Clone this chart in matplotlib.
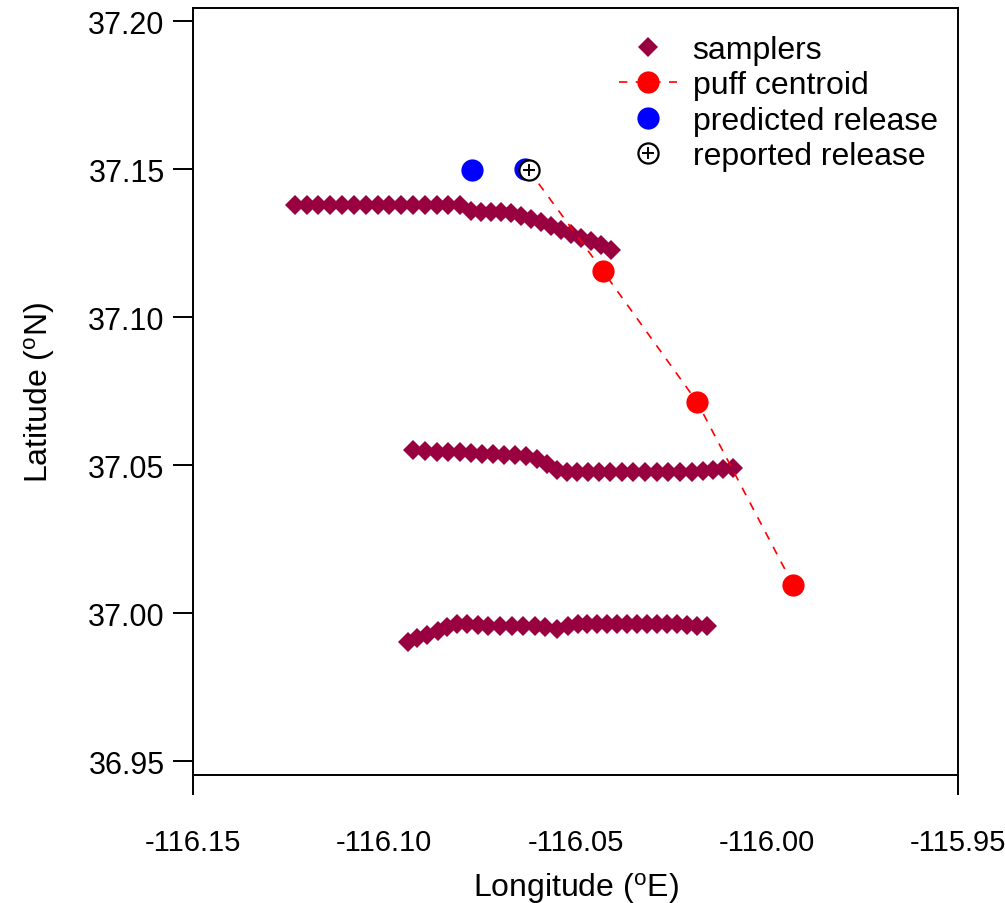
import numpy as np
import matplotlib
matplotlib.use("Agg")
import matplotlib.pyplot as plt
from matplotlib.lines import Line2D
from matplotlib.legend_handler import HandlerTuple

plt.rcParams['font.family'] = ['Liberation Sans', 'DejaVu Sans']
plt.rcParams['mathtext.default'] = 'regular'

# sampler lines (lon, lat)
line1_lon = [-116.1233, -116.1202, -116.1173, -116.1142, -116.1110, -116.1079, -116.1048,
             -116.1016, -116.0988, -116.0956, -116.0925, -116.0893, -116.0862, -116.0833,
             -116.0802, -116.0773, -116.0747, -116.0721, -116.0695, -116.0669, -116.0642,
             -116.0616, -116.0590, -116.0564, -116.0538, -116.0512, -116.0486, -116.0459,
             -116.0433, -116.0407]
line1_lat = [37.1378, 37.1378, 37.1378, 37.1378, 37.1378, 37.1378, 37.1378,
             37.1378, 37.1378, 37.1378, 37.1378, 37.1378, 37.1378, 37.1378,
             37.1378, 37.1358, 37.1355, 37.1355, 37.1355, 37.1351, 37.1341,
             37.1331, 37.1321, 37.1307, 37.1294, 37.1280, 37.1267, 37.1257,
             37.1243, 37.1226]

line2_lon = [-116.0924, -116.0893, -116.0863, -116.0833, -116.0802, -116.0774, -116.0745,
             -116.0716, -116.0687, -116.0658, -116.0629, -116.0601, -116.0575, -116.0549,
             -116.0523, -116.0497, -116.0467, -116.0438, -116.0410, -116.0379, -116.0349,
             -116.0318, -116.0288, -116.0257, -116.0227, -116.0196, -116.0166, -116.0140,
             -116.0114, -116.0087]
line2_lat = [37.0552, 37.0548, 37.0545, 37.0545, 37.0543, 37.0541, 37.0537,
             37.0537, 37.0535, 37.0534, 37.0531, 37.0520, 37.0503, 37.0484,
             37.0477, 37.0477, 37.0475, 37.0475, 37.0475, 37.0475, 37.0475,
             37.0475, 37.0475, 37.0475, 37.0477, 37.0477, 37.0481, 37.0484,
             37.0486, 37.0489]

line3_lon = [-116.0937, -116.0915, -116.0889, -116.0859, -116.0837, -116.0811, -116.0784,
             -116.0754, -116.0728, -116.0697, -116.0667, -116.0636, -116.0606, -116.0580,
             -116.0549, -116.0519, -116.0493, -116.0471, -116.0445, -116.0418, -116.0392,
             -116.0366, -116.0340, -116.0314, -116.0288, -116.0262, -116.0235, -116.0209,
             -116.0183, -116.0157]
line3_lat = [36.9901, 36.9915, 36.9926, 36.9940, 36.9952, 36.9963, 36.9963,
             36.9959, 36.9957, 36.9957, 36.9955, 36.9955, 36.9955, 36.9952,
             36.9946, 36.9955, 36.9963, 36.9963, 36.9963, 36.9963, 36.9963,
             36.9963, 36.9963, 36.9963, 36.9963, 36.9963, 36.9963, 36.9959,
             36.9957, 36.9955]

centroid_lon = [-116.0428, -116.0182, -115.9931]
centroid_lat = [37.1155, 37.0713, 37.0095]

predicted_lon = [-116.0771, -116.0632]
predicted_lat = [37.1497, 37.1500]

reported_lon = [-116.0622]
reported_lat = [37.1496]

xticks = [-116.15, -116.10, -116.05, -116.00, -115.95]
yticks = [36.95, 37.00, 37.05, 37.10, 37.15, 37.20]

sampler_color = '#990040'

fig = plt.figure(figsize=(10.05, 9.04), dpi=100)
ax = fig.add_axes([193 / 1005, 1 - 776 / 904, 765 / 1005, 767 / 904])

for lon, lat in [(line1_lon, line1_lat), (line2_lon, line2_lat), (line3_lon, line3_lat)]:
    ax.plot(lon, lat, linestyle='none', marker='D', markersize=10,
            color=sampler_color, markeredgewidth=0, zorder=2)

# dashed track from reported release through puff centroids
track_lon = reported_lon + centroid_lon
track_lat = reported_lat + centroid_lat
ax.plot(track_lon, track_lat, color='red', linestyle='--', linewidth=1.2,
        dashes=(5, 5), zorder=3)
ax.plot(centroid_lon, centroid_lat, linestyle='none', marker='o', markersize=16,
        color='red', markeredgewidth=0, zorder=4)
ax.plot(predicted_lon, predicted_lat, linestyle='none', marker='o', markersize=16,
        color='blue', markeredgewidth=0, zorder=4)
ax.plot(reported_lon, reported_lat, linestyle='none', marker='o', markersize=14.5,
        markerfacecolor='white', markeredgecolor='black', markeredgewidth=1.6, zorder=5)
ax.plot(reported_lon, reported_lat, linestyle='none', marker='+', markersize=8,
        color='black', markeredgewidth=1.4, zorder=6)

ax.set_xlim(-116.15, -115.95)
ax.set_ylim(36.9453, 37.2044)
ax.set_xticks(xticks)
ax.set_xticklabels(['%.2f' % v for v in xticks])
ax.set_yticks(yticks)
ax.set_yticklabels(['%.2f' % v for v in yticks])
ax.xaxis.remove_overlapping_locs = False
ax.set_xticks([-116.15, -115.95], minor=True)
ax.tick_params(axis='x', which='major', length=0, pad=38, labelsize=21)
ax.tick_params(axis='x', which='minor', length=14.4, width=1.4, direction='out')
ax.tick_params(axis='y', which='major', length=14.4, width=1.4, direction='out',
               pad=6, labelsize=22)
for sp in ax.spines.values():
    sp.set_linewidth(1.4)

ax.set_xlabel('Longitude ($^{o}$E)', fontsize=23, labelpad=10)
ax.set_ylabel('Latitude ($^{o}$N)', fontsize=23, labelpad=22)

h_samp = Line2D([], [], linestyle='none', marker='D', markersize=10,
                color=sampler_color, markeredgewidth=0)
h_puff = Line2D([], [], color='red', linestyle='--', linewidth=1.2, dashes=(5, 5),
                marker='o', markersize=16, markeredgewidth=0)
h_pred = Line2D([], [], linestyle='none', marker='o', markersize=16, color='blue',
                markeredgewidth=0)
h_rep1 = Line2D([], [], linestyle='none', marker='o', markersize=14.5,
                markerfacecolor='white', markeredgecolor='black', markeredgewidth=1.6)
h_rep2 = Line2D([], [], linestyle='none', marker='+', markersize=8, color='black',
                markeredgewidth=1.4)
ax.legend([h_samp, h_puff, h_pred, (h_rep1, h_rep2)],
          ['samplers', 'puff centroid', 'predicted release', 'reported release'],
          handler_map={tuple: HandlerTuple(ndivide=1, pad=0)},
          loc='upper left', bbox_to_anchor=(0.557, 0.965), frameon=False,
          fontsize=23, numpoints=1, handlelength=1.8, handletextpad=0.5,
          labelspacing=0.17, borderaxespad=0, borderpad=0)

fig.savefig('out.png', dpi=100)
